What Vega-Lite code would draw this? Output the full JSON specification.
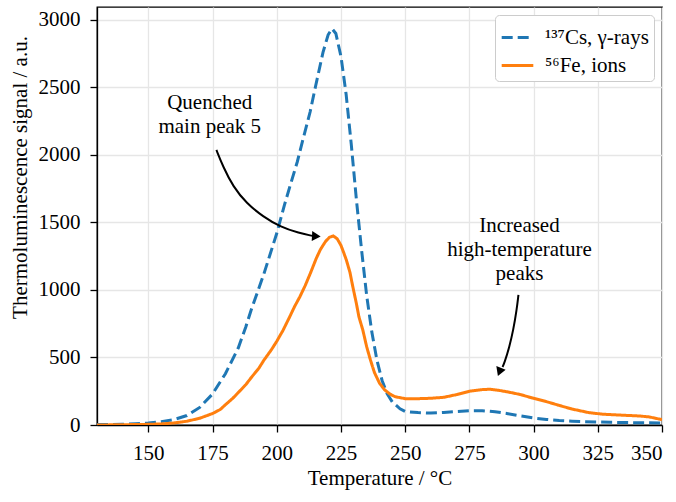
{
  "$schema": "https://vega.github.io/schema/vega-lite/v6.json",
  "autosize": "none",
  "width": 565,
  "height": 418,
  "padding": {"left": 97, "top": 7, "right": 14, "bottom": 77},
  "background": "white",
  "config": {
    "font": "Liberation Serif",
    "view": {"stroke": "black", "strokeWidth": 1.3},
    "axis": {
      "gridColor": "#e6e6e6", "gridWidth": 1.3,
      "domainColor": "black", "domainWidth": 1.3,
      "tickColor": "black", "tickWidth": 1.3, "tickSize": 7,
      "labelFont": "Liberation Serif", "labelFontSize": 21, "labelColor": "black",
      "titleFont": "Liberation Serif", "titleFontSize": 21, "titleFontWeight": "normal", "titleColor": "black"
    },
    "legend": {
      "orient": "top-right", "offset": 8,
      "strokeColor": "#cccccc", "fillColor": "white", "cornerRadius": 4, "padding": 5,
      "labelFont": "Liberation Serif", "labelFontSize": 21, "labelColor": "black", "labelOffset": 10,
      "symbolType": "stroke", "symbolStrokeWidth": 3, "symbolSize": 1000, "rowPadding": 0
    }
  },
  "datasets": {
    "curves": [
      {"s": "¹³⁷Cs, γ-rays", "t": 130, "v": 3}, {"s": "¹³⁷Cs, γ-rays", "t": 135, "v": 4}, {"s": "¹³⁷Cs, γ-rays", "t": 140, "v": 6},
      {"s": "¹³⁷Cs, γ-rays", "t": 145, "v": 10}, {"s": "¹³⁷Cs, γ-rays", "t": 150, "v": 15}, {"s": "¹³⁷Cs, γ-rays", "t": 155, "v": 25},
      {"s": "¹³⁷Cs, γ-rays", "t": 160, "v": 40}, {"s": "¹³⁷Cs, γ-rays", "t": 165, "v": 70}, {"s": "¹³⁷Cs, γ-rays", "t": 170, "v": 130},
      {"s": "¹³⁷Cs, γ-rays", "t": 175, "v": 230}, {"s": "¹³⁷Cs, γ-rays", "t": 180, "v": 380}, {"s": "¹³⁷Cs, γ-rays", "t": 185, "v": 570},
      {"s": "¹³⁷Cs, γ-rays", "t": 188, "v": 730}, {"s": "¹³⁷Cs, γ-rays", "t": 190, "v": 850}, {"s": "¹³⁷Cs, γ-rays", "t": 195, "v": 1120},
      {"s": "¹³⁷Cs, γ-rays", "t": 200, "v": 1420}, {"s": "¹³⁷Cs, γ-rays", "t": 203, "v": 1630}, {"s": "¹³⁷Cs, γ-rays", "t": 205, "v": 1760},
      {"s": "¹³⁷Cs, γ-rays", "t": 208, "v": 1950}, {"s": "¹³⁷Cs, γ-rays", "t": 210, "v": 2100}, {"s": "¹³⁷Cs, γ-rays", "t": 213, "v": 2320},
      {"s": "¹³⁷Cs, γ-rays", "t": 215, "v": 2500}, {"s": "¹³⁷Cs, γ-rays", "t": 218, "v": 2760}, {"s": "¹³⁷Cs, γ-rays", "t": 220, "v": 2890},
      {"s": "¹³⁷Cs, γ-rays", "t": 221.5, "v": 2935}, {"s": "¹³⁷Cs, γ-rays", "t": 223, "v": 2900}, {"s": "¹³⁷Cs, γ-rays", "t": 225, "v": 2730},
      {"s": "¹³⁷Cs, γ-rays", "t": 227, "v": 2450}, {"s": "¹³⁷Cs, γ-rays", "t": 229, "v": 2080}, {"s": "¹³⁷Cs, γ-rays", "t": 231, "v": 1670},
      {"s": "¹³⁷Cs, γ-rays", "t": 233, "v": 1300}, {"s": "¹³⁷Cs, γ-rays", "t": 235, "v": 960}, {"s": "¹³⁷Cs, γ-rays", "t": 237, "v": 690},
      {"s": "¹³⁷Cs, γ-rays", "t": 239, "v": 480}, {"s": "¹³⁷Cs, γ-rays", "t": 241, "v": 330}, {"s": "¹³⁷Cs, γ-rays", "t": 243, "v": 230},
      {"s": "¹³⁷Cs, γ-rays", "t": 245, "v": 170}, {"s": "¹³⁷Cs, γ-rays", "t": 248, "v": 120}, {"s": "¹³⁷Cs, γ-rays", "t": 250, "v": 100},
      {"s": "¹³⁷Cs, γ-rays", "t": 255, "v": 92}, {"s": "¹³⁷Cs, γ-rays", "t": 260, "v": 88}, {"s": "¹³⁷Cs, γ-rays", "t": 265, "v": 93},
      {"s": "¹³⁷Cs, γ-rays", "t": 270, "v": 100}, {"s": "¹³⁷Cs, γ-rays", "t": 275, "v": 105}, {"s": "¹³⁷Cs, γ-rays", "t": 280, "v": 106},
      {"s": "¹³⁷Cs, γ-rays", "t": 285, "v": 98}, {"s": "¹³⁷Cs, γ-rays", "t": 290, "v": 84}, {"s": "¹³⁷Cs, γ-rays", "t": 295, "v": 67},
      {"s": "¹³⁷Cs, γ-rays", "t": 300, "v": 52}, {"s": "¹³⁷Cs, γ-rays", "t": 305, "v": 41}, {"s": "¹³⁷Cs, γ-rays", "t": 310, "v": 33},
      {"s": "¹³⁷Cs, γ-rays", "t": 315, "v": 28}, {"s": "¹³⁷Cs, γ-rays", "t": 320, "v": 25}, {"s": "¹³⁷Cs, γ-rays", "t": 330, "v": 20},
      {"s": "¹³⁷Cs, γ-rays", "t": 340, "v": 17}, {"s": "¹³⁷Cs, γ-rays", "t": 350, "v": 15},
      {"s": "⁵⁶Fe, ions", "t": 130, "v": 0}, {"s": "⁵⁶Fe, ions", "t": 140, "v": 2}, {"s": "⁵⁶Fe, ions", "t": 150, "v": 5},
      {"s": "⁵⁶Fe, ions", "t": 155, "v": 8}, {"s": "⁵⁶Fe, ions", "t": 160, "v": 15}, {"s": "⁵⁶Fe, ions", "t": 165, "v": 28},
      {"s": "⁵⁶Fe, ions", "t": 170, "v": 50}, {"s": "⁵⁶Fe, ions", "t": 175, "v": 85}, {"s": "⁵⁶Fe, ions", "t": 178, "v": 115},
      {"s": "⁵⁶Fe, ions", "t": 180, "v": 150}, {"s": "⁵⁶Fe, ions", "t": 183, "v": 200}, {"s": "⁵⁶Fe, ions", "t": 185, "v": 240},
      {"s": "⁵⁶Fe, ions", "t": 188, "v": 300}, {"s": "⁵⁶Fe, ions", "t": 190, "v": 350}, {"s": "⁵⁶Fe, ions", "t": 193, "v": 420},
      {"s": "⁵⁶Fe, ions", "t": 195, "v": 480}, {"s": "⁵⁶Fe, ions", "t": 198, "v": 560}, {"s": "⁵⁶Fe, ions", "t": 200, "v": 620},
      {"s": "⁵⁶Fe, ions", "t": 202.4, "v": 700}, {"s": "⁵⁶Fe, ions", "t": 205, "v": 800}, {"s": "⁵⁶Fe, ions", "t": 207, "v": 880},
      {"s": "⁵⁶Fe, ions", "t": 209, "v": 950}, {"s": "⁵⁶Fe, ions", "t": 211, "v": 1030}, {"s": "⁵⁶Fe, ions", "t": 213, "v": 1120},
      {"s": "⁵⁶Fe, ions", "t": 215.4, "v": 1235}, {"s": "⁵⁶Fe, ions", "t": 217, "v": 1300}, {"s": "⁵⁶Fe, ions", "t": 219, "v": 1360},
      {"s": "⁵⁶Fe, ions", "t": 220.5, "v": 1390}, {"s": "⁵⁶Fe, ions", "t": 222, "v": 1400}, {"s": "⁵⁶Fe, ions", "t": 223.5, "v": 1380},
      {"s": "⁵⁶Fe, ions", "t": 225, "v": 1330}, {"s": "⁵⁶Fe, ions", "t": 226, "v": 1280}, {"s": "⁵⁶Fe, ions", "t": 227.1, "v": 1222},
      {"s": "⁵⁶Fe, ions", "t": 228.5, "v": 1130}, {"s": "⁵⁶Fe, ions", "t": 229.6, "v": 1025}, {"s": "⁵⁶Fe, ions", "t": 231, "v": 900},
      {"s": "⁵⁶Fe, ions", "t": 232, "v": 800}, {"s": "⁵⁶Fe, ions", "t": 233.5, "v": 704}, {"s": "⁵⁶Fe, ions", "t": 235, "v": 580},
      {"s": "⁵⁶Fe, ions", "t": 236.5, "v": 480}, {"s": "⁵⁶Fe, ions", "t": 238, "v": 390}, {"s": "⁵⁶Fe, ions", "t": 240, "v": 310},
      {"s": "⁵⁶Fe, ions", "t": 242, "v": 260}, {"s": "⁵⁶Fe, ions", "t": 244, "v": 230}, {"s": "⁵⁶Fe, ions", "t": 246, "v": 210},
      {"s": "⁵⁶Fe, ions", "t": 250, "v": 195}, {"s": "⁵⁶Fe, ions", "t": 255, "v": 195}, {"s": "⁵⁶Fe, ions", "t": 260, "v": 198},
      {"s": "⁵⁶Fe, ions", "t": 265, "v": 205}, {"s": "⁵⁶Fe, ions", "t": 270, "v": 225}, {"s": "⁵⁶Fe, ions", "t": 275, "v": 250},
      {"s": "⁵⁶Fe, ions", "t": 280, "v": 262}, {"s": "⁵⁶Fe, ions", "t": 283, "v": 265}, {"s": "⁵⁶Fe, ions", "t": 286, "v": 258},
      {"s": "⁵⁶Fe, ions", "t": 290, "v": 245}, {"s": "⁵⁶Fe, ions", "t": 295, "v": 225}, {"s": "⁵⁶Fe, ions", "t": 299.5, "v": 200},
      {"s": "⁵⁶Fe, ions", "t": 305, "v": 173}, {"s": "⁵⁶Fe, ions", "t": 310, "v": 145}, {"s": "⁵⁶Fe, ions", "t": 315, "v": 118},
      {"s": "⁵⁶Fe, ions", "t": 321.7, "v": 91}, {"s": "⁵⁶Fe, ions", "t": 327, "v": 80}, {"s": "⁵⁶Fe, ions", "t": 333, "v": 74},
      {"s": "⁵⁶Fe, ions", "t": 341, "v": 67}, {"s": "⁵⁶Fe, ions", "t": 345, "v": 60}, {"s": "⁵⁶Fe, ions", "t": 348.7, "v": 45},
      {"s": "⁵⁶Fe, ions", "t": 350, "v": 40}
    ],
    "arrows": [
      {"a": "a1", "i": 0, "t": 176.5, "v": 2037}, {"a": "a1", "i": 1, "t": 179.1, "v": 1913}, {"a": "a1", "i": 2, "t": 183.0, "v": 1765},
      {"a": "a1", "i": 3, "t": 188.2, "v": 1642}, {"a": "a1", "i": 4, "t": 194.7, "v": 1543}, {"a": "a1", "i": 5, "t": 201.2, "v": 1469},
      {"a": "a1", "i": 6, "t": 208.9, "v": 1420}, {"a": "a1", "i": 7, "t": 213.5, "v": 1402}, {"a": "a1", "i": 8, "t": 215.0, "v": 1399},
      {"a": "a2", "i": 0, "t": 294.1, "v": 963}, {"a": "a2", "i": 1, "t": 293.4, "v": 852}, {"a": "a2", "i": 2, "t": 292.1, "v": 704},
      {"a": "a2", "i": 3, "t": 290.6, "v": 580}, {"a": "a2", "i": 4, "t": 288.6, "v": 457}, {"a": "a2", "i": 5, "t": 287.9, "v": 430}
    ],
    "heads": [
      {"t": 215.4, "v": 1398, "shape": "triangle-right", "ang": 3},
      {"t": 286.7, "v": 393, "shape": "triangle-down", "ang": 21}
    ],
    "notes": [
      {"t": 173.9, "v": 2385, "txt": "Quenched\nmain peak 5"},
      {"t": 294.5, "v": 1474, "txt": "Increased\nhigh-temperature\npeaks"}
    ]
  },
  "encoding": {
    "x": {"field": "t", "type": "quantitative", "scale": {"domain": [130, 350], "nice": false, "zero": false},
      "axis": {"values": [150, 175, 200, 225, 250, 275, 300, 325, 350], "title": "Temperature / °C", "labelPadding": 10, "titlePadding": 4}},
    "y": {"field": "v", "type": "quantitative", "scale": {"domain": [0, 3096], "nice": false},
      "axis": {"values": [0, 500, 1000, 1500, 2000, 2500, 3000], "format": "d", "title": "Thermoluminescence signal / a.u.", "labelPadding": 10, "titlePadding": 8, "titleY": 170}}
  },
  "layer": [
    {
      "data": {"name": "curves"},
      "mark": {"type": "line", "strokeWidth": 3, "clip": true},
      "encoding": {
        "color": {"field": "s", "type": "nominal", "title": null,
          "scale": {"domain": ["¹³⁷Cs, γ-rays", "⁵⁶Fe, ions"], "range": ["#1f77b4", "#ff7f0e"]}},
        "strokeDash": {"field": "s", "type": "nominal", "title": null,
          "scale": {"domain": ["¹³⁷Cs, γ-rays", "⁵⁶Fe, ions"], "range": [[11, 5], [1, 0]]}}
      }
    },
    {
      "data": {"name": "arrows"},
      "mark": {"type": "line", "color": "black", "strokeWidth": 2, "interpolate": "basis"},
      "encoding": {
        "detail": {"field": "a", "type": "nominal"},
        "order": {"field": "i", "type": "quantitative"}
      }
    },
    {
      "data": {"name": "heads"},
      "mark": {"type": "point", "filled": true, "color": "black", "opacity": 1, "size": 100, "strokeWidth": 0},
      "encoding": {
        "shape": {"field": "shape", "type": "nominal", "scale": null},
        "angle": {"field": "ang", "type": "quantitative", "scale": null}
      }
    },
    {
      "data": {"name": "notes"},
      "mark": {"type": "text", "font": "Liberation Serif", "fontSize": 21, "align": "center", "baseline": "middle", "lineBreak": "\n", "lineHeight": 24, "color": "black"},
      "encoding": {
        "text": {"field": "txt", "type": "nominal"}
      }
    }
  ]
}
